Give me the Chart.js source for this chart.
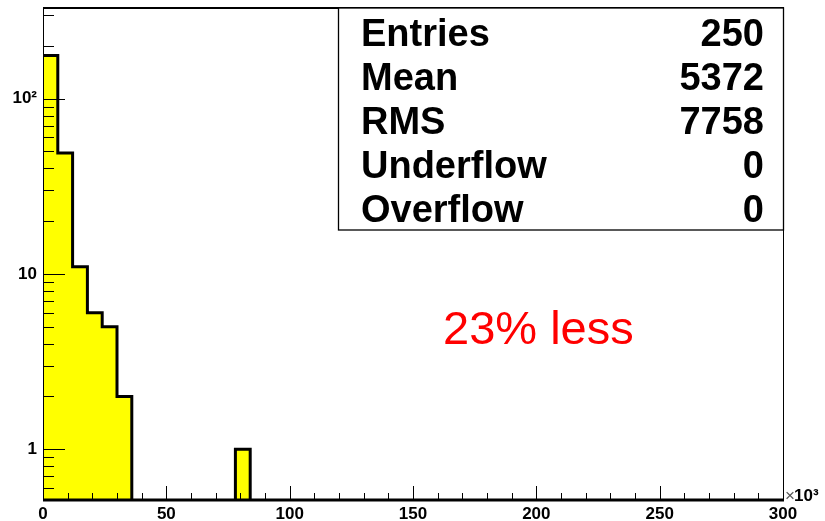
<!DOCTYPE html>
<html>
<head>
<meta charset="utf-8">
<script src="https://cdn.jsdelivr.net/npm/chart.js@4.4.0/dist/chart.umd.min.js"></script>
<style>
    html, body { margin: 0; padding: 0; background: #fff; }
    #wrap { width: 825px; height: 521px; }
</style>
</head>
<body>
<div id="wrap"><canvas id="histo"></canvas></div>
<script>
// ==== DONNEES ====
const binWidth = 6; // largeur d'un bin (x10^3)
const counts = [
    176, 49, 11, 6, 5, 2, 0, 0, 0, 0,
    0, 0, 0, 1, 0, 0, 0, 0, 0, 0,
    0, 0, 0, 0, 0, 0, 0, 0, 0, 0,
    0, 0, 0, 0, 0, 0, 0, 0, 0, 0,
    0, 0, 0, 0, 0, 0, 0, 0, 0, 0
];
const xRange = [0, 300];
const yRange = [0.513, 333];
const xMajorTicks = [0, 50, 100, 150, 200, 250, 300];
const xMinorStep = 10;
const yMajorTicks = [1, 10, 100];
const yMajorLabels = ['1', '10', '10²'];
const yMinorTicks = [0.6, 0.7, 0.8, 0.9, 2, 3, 4, 5, 6, 7, 8, 9, 20, 30, 40, 50, 60, 70, 80, 90, 200, 300];
const statsLabels = ['Entries', 'Mean', 'RMS', 'Underflow', 'Overflow'];
const statsValues = ['250', '5372', '7758', '0', '0'];
const note = '23% less';

const FONT = '"Liberation Sans", Arial, Helvetica, sans-serif';

// contour en escalier : un point par bord de bin (0 -> sous l'axe)
const belowAxis = yRange[0] / 10;
const stepPoints = counts.map((c, i) => ({ x: i * binWidth, y: c > 0 ? c : belowAxis }));
stepPoints.push({ x: counts.length * binWidth, y: belowAxis });

// Cadre, ticks internes, boite de stats, textes
const rootStyle = {
    id: 'rootStyle',
    afterDatasetsDraw(chart) {
        const { ctx, chartArea: a, scales: { x, y } } = chart;
        ctx.save();
        ctx.strokeStyle = '#000';

        // ticks Y (vers l'interieur)
        ctx.lineWidth = 1;
        y.ticks.forEach(t => {
            const py = Math.round(y.getPixelForValue(t.value)) + 0.5;
            const len = yMajorTicks.includes(t.value) ? 22 : 11;
            ctx.beginPath();
            ctx.moveTo(a.left, py);
            ctx.lineTo(a.left + len, py);
            ctx.stroke();
        });
        // ticks X
        x.ticks.forEach(t => {
            const px = Math.round(x.getPixelForValue(t.value)) + 0.5;
            const len = xMajorTicks.includes(t.value) ? 14 : 7;
            ctx.beginPath();
            ctx.moveTo(px, a.bottom);
            ctx.lineTo(px, a.bottom - len);
            ctx.stroke();
        });

        // cadre
        ctx.lineWidth = 1;
        ctx.beginPath();
        ctx.moveTo(a.left + 0.5, a.bottom);
        ctx.lineTo(a.left + 0.5, a.top);
        ctx.moveTo(a.right + 0.5, a.top);
        ctx.lineTo(a.right + 0.5, a.bottom);
        ctx.stroke();
        ctx.lineWidth = 2;
        ctx.beginPath();
        ctx.moveTo(a.left, a.top + 1);
        ctx.lineTo(a.right + 1, a.top + 1);
        ctx.stroke();
        ctx.lineWidth = 3;
        ctx.beginPath();
        ctx.moveTo(a.left, a.bottom);
        ctx.lineTo(a.right + 1, a.bottom);
        ctx.stroke();

        // boite de stats
        const bx = 338, by = a.top + 1, bw = a.right - bx, bh = 230 - by;
        ctx.fillStyle = '#fff';
        ctx.fillRect(bx, by, bw, bh);
        ctx.lineWidth = 1.3;
        ctx.strokeRect(bx + 0.5, by, bw, bh);

        ctx.fillStyle = '#000';
        ctx.font = 'bold 38px ' + FONT;
        ctx.textBaseline = 'alphabetic';
        statsLabels.forEach((lbl, i) => {
            const base = 46 + i * 44;
            ctx.textAlign = 'left';
            ctx.fillText(lbl, 361, base);
            ctx.textAlign = 'right';
            ctx.fillText(statsValues[i], 764, base);
        });

        // annotation rouge
        ctx.fillStyle = '#ff0000';
        ctx.font = '47px ' + FONT;
        ctx.textAlign = 'left';
        ctx.fillText(note, 443, 344);

        // multiplicateur d'axe
        ctx.fillStyle = '#555';
        ctx.font = '17px ' + FONT;
        ctx.fillText('×', 785, 501);
        ctx.fillStyle = '#000';
        ctx.font = 'bold 17px ' + FONT;
        ctx.fillText('10³', 794, 501);

        ctx.restore();
    }
};

document.addEventListener('DOMContentLoaded', function () {
    const ctx = document.getElementById('histo');
    new Chart(ctx, {
        type: 'line',
        data: {
            datasets: [{
                data: stepPoints,
                stepped: 'before',
                borderColor: '#000',
                borderWidth: 3,
                backgroundColor: '#ffff00',
                fill: 'start',
                pointRadius: 0,
                tension: 0,
                clip: 0
            }]
        },
        options: {
            responsive: true,
            maintainAspectRatio: false,
            animation: false,
            events: [],
            layout: { padding: { top: 7, right: 42, left: 0, bottom: 0 } },
            plugins: {
                legend: { display: false },
                tooltip: { enabled: false }
            },
            scales: {
                x: {
                    type: 'linear',
                    min: xRange[0],
                    max: xRange[1],
                    grid: { display: false, drawTicks: false },
                    border: { display: false },
                    afterBuildTicks: s => {
                        const ticks = [];
                        for (let v = xRange[0]; v <= xRange[1]; v += xMinorStep) ticks.push({ value: v });
                        s.ticks = ticks;
                    },
                    afterFit: s => {
                        s.height = 21;
                        s.paddingLeft = 0;
                        s.paddingRight = 0;
                    },
                    ticks: {
                        autoSkip: false,
                        maxRotation: 0,
                        padding: 4,
                        color: '#000',
                        font: { family: FONT, size: 17, weight: 'bold' },
                        callback: v => xMajorTicks.includes(v) ? String(v) : ''
                    }
                },
                y: {
                    type: 'logarithmic',
                    min: yRange[0],
                    max: yRange[1],
                    grid: { display: false, drawTicks: false },
                    border: { display: false },
                    afterBuildTicks: s => {
                        s.ticks = yMajorTicks.concat(yMinorTicks).sort((p, q) => p - q).map(v => ({ value: v }));
                    },
                    afterFit: s => {
                        s.width = 43;
                        s.paddingTop = 0;
                        s.paddingBottom = 0;
                    },
                    ticks: {
                        autoSkip: false,
                        padding: 6,
                        color: '#000',
                        font: { family: FONT, size: 17, weight: 'bold' },
                        callback: v => {
                            const k = yMajorTicks.indexOf(v);
                            return k >= 0 ? yMajorLabels[k] : '';
                        }
                    }
                }
            }
        },
        plugins: [rootStyle]
    });
});
</script>
</body>
</html>
